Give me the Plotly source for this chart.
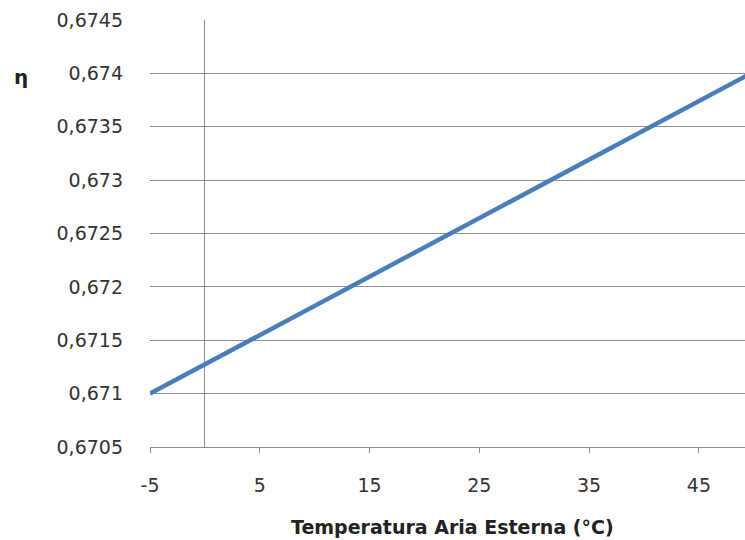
import plotly.graph_objects as go

# Data
temperature = [-5, 5, 15, 25, 35, 45, 50]
efficiency = [0.67100, 0.671548, 0.672096, 0.672644, 0.673192, 0.673740, 0.674014]

x_tick_vals = [-5, 5, 15, 25, 35, 45]
x_tick_text = ["-5", "5", "15", "25", "35", "45"]
y_tick_vals = [0.6705, 0.671, 0.6715, 0.672, 0.6725, 0.673, 0.6735, 0.674, 0.6745]
y_tick_text = ["0,6705", "0,671", "0,6715", "0,672", "0,6725", "0,673", "0,6735", "0,674", "0,6745"]

x_title = "Temperatura Aria Esterna (°C)"
y_title = "η"

font_family = "DejaVu Sans, sans-serif"
grid_color = "#8c8c8c"
text_color = "#333333"

fig = go.Figure()
fig.add_trace(go.Scatter(
    x=temperature, y=efficiency, mode="lines",
    line=dict(color="#4a7ebb", width=4.5),
    showlegend=False, cliponaxis=True,
))

fig.update_layout(
    width=745, height=540,
    margin=dict(l=150, r=0, t=20, b=93, autoexpand=False),
    paper_bgcolor="white", plot_bgcolor="white",
    font=dict(family=font_family, size=19, color=text_color),
    xaxis=dict(
        range=[-5, 49.2],
        tickvals=x_tick_vals, ticktext=x_tick_text,
        ticks="outside", ticklen=5, tickcolor=grid_color, tickwidth=1,
        ticklabelstandoff=16,
        showgrid=False,
        showline=True, linecolor=grid_color, linewidth=1,
        zeroline=True, zerolinecolor=grid_color, zerolinewidth=1,
        tickfont=dict(size=19, color=text_color),
        automargin=False,
    ),
    yaxis=dict(
        range=[0.6705, 0.6745],
        tickvals=y_tick_vals, ticktext=y_tick_text,
        ticks="", ticklabelstandoff=26,
        showgrid=True, gridcolor=grid_color, gridwidth=1,
        showline=False, zeroline=False,
        tickfont=dict(size=19, color=text_color),
        automargin=False,
    ),
)

fig.add_annotation(
    text="<b>" + x_title + "</b>", xref="paper", yref="paper",
    x=0.509, y=0, xanchor="center", yanchor="middle",
    yshift=-80, showarrow=False,
    font=dict(size=19, color="#222"),
)

fig.add_annotation(
    text="<b>" + y_title + "</b>", xref="paper", yref="y",
    x=0, y=0.67397, xanchor="center", yanchor="middle",
    xshift=-129, showarrow=False,
    font=dict(size=20, color="#222"),
)

fig.write_html(
    "out.html",
    config={"displayModeBar": False},
    post_script="document.body.style.margin='0';document.body.style.overflow='hidden';",
)
